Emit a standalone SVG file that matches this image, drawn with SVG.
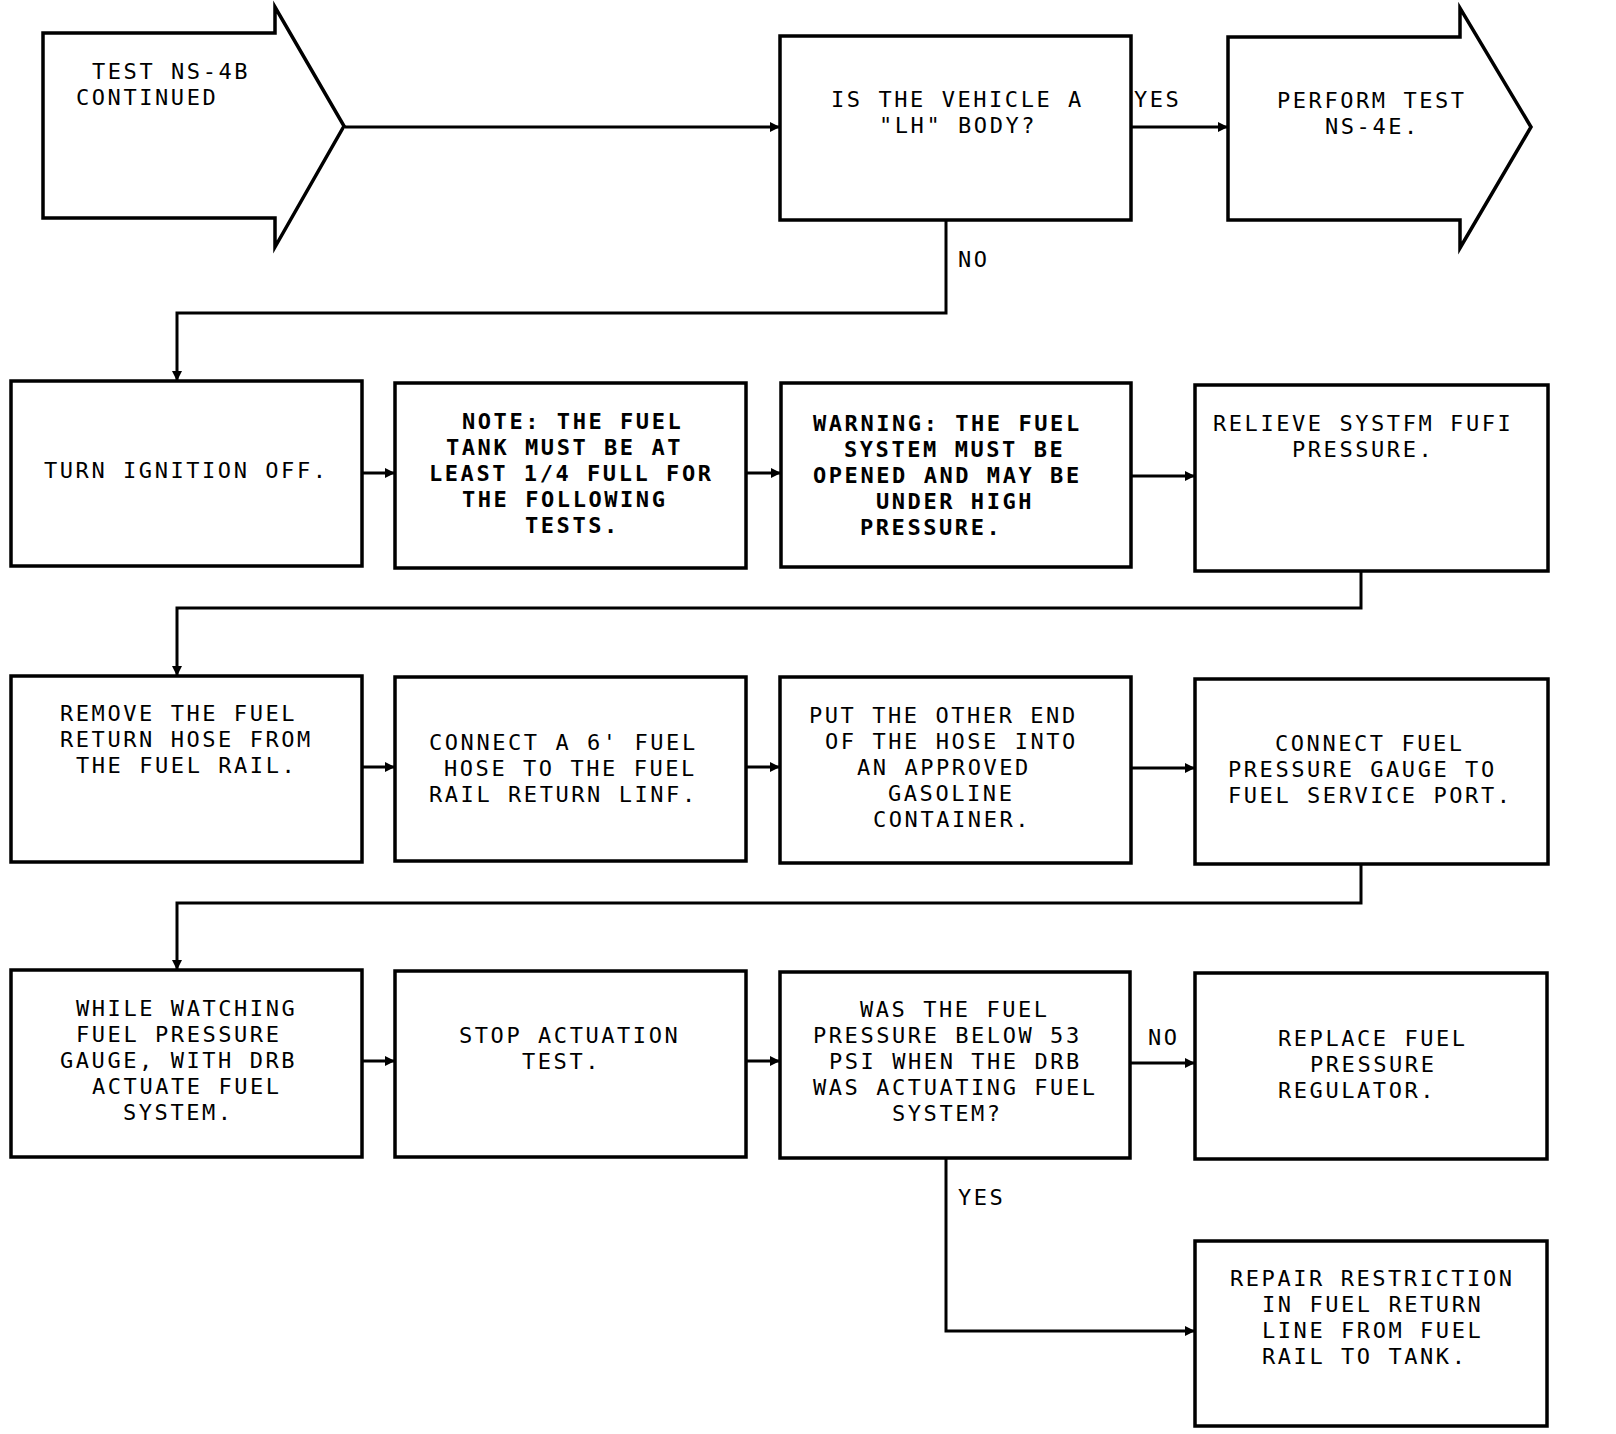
<svg xmlns="http://www.w3.org/2000/svg" width="1616" height="1434" viewBox="0 0 1616 1434">
<style>
.box{fill:#fff;stroke:#000;stroke-width:3.5}
.con{fill:none;stroke:#000;stroke-width:3}
text{font-family:"DejaVu Sans Mono","Liberation Mono",monospace;font-size:22px;letter-spacing:2.56px;fill:#000}
.b{font-weight:bold}
</style>
<defs>
<marker id="ah" markerUnits="userSpaceOnUse" markerWidth="12" markerHeight="10" refX="10" refY="5" orient="auto">
<path d="M0,0 L10,5 L0,10 Z" fill="#000"/>
</marker>
</defs>
<rect width="1616" height="1434" fill="#fff"/>

<g id="connectors">
<line class="con" x1="345" y1="127" x2="780" y2="127" marker-end="url(#ah)"/>
<line class="con" x1="1131" y1="127" x2="1228" y2="127" marker-end="url(#ah)"/>
<polyline class="con" points="946,220 946,313 177,313 177,381" marker-end="url(#ah)"/>
<line class="con" x1="362" y1="473" x2="395" y2="473" marker-end="url(#ah)"/>
<line class="con" x1="746" y1="473" x2="781" y2="473" marker-end="url(#ah)"/>
<line class="con" x1="1131" y1="476" x2="1195" y2="476" marker-end="url(#ah)"/>
<polyline class="con" points="1361,571 1361,608 177,608 177,676" marker-end="url(#ah)"/>
<line class="con" x1="362" y1="767" x2="395" y2="767" marker-end="url(#ah)"/>
<line class="con" x1="746" y1="767" x2="780" y2="767" marker-end="url(#ah)"/>
<line class="con" x1="1131" y1="768" x2="1195" y2="768" marker-end="url(#ah)"/>
<polyline class="con" points="1361,864 1361,903 177,903 177,970" marker-end="url(#ah)"/>
<line class="con" x1="362" y1="1061" x2="395" y2="1061" marker-end="url(#ah)"/>
<line class="con" x1="746" y1="1061" x2="780" y2="1061" marker-end="url(#ah)"/>
<line class="con" x1="1130" y1="1063" x2="1195" y2="1063" marker-end="url(#ah)"/>
<polyline class="con" points="946,1158 946,1331 1195,1331" marker-end="url(#ah)"/>
<text x="1134" y="107">YES</text>
<text x="958" y="267">NO</text>
<text x="1148" y="1045">NO</text>
<text x="958" y="1205">YES</text>
</g>

<g id="start">
<polygon class="box" points="43,33 275,33 275,7 344,126 275,247 275,218 43,218"/>
<text x="92" y="79">TEST NS-4B</text>
<text x="76" y="105">CONTINUED</text>
</g>

<g id="q-lh">
<rect class="box" x="780" y="36" width="351" height="184"/>
<text x="831" y="107">IS THE VEHICLE A</text>
<text x="879" y="133">"LH" BODY?</text>
</g>

<g id="ns4e">
<polygon class="box" points="1228,37 1460,37 1460,8 1531,127 1460,248 1460,220 1228,220"/>
<text x="1277" y="108">PERFORM TEST</text>
<text x="1325" y="134">NS-4E.</text>
</g>

<g id="ignition">
<rect class="box" x="11" y="381" width="351" height="185"/>
<text x="44" y="478">TURN IGNITION OFF.</text>
</g>

<g id="note">
<rect class="box" x="395" y="383" width="351" height="185"/>
<text class="b" x="462" y="429">NOTE: THE FUEL</text>
<text class="b" x="446" y="455">TANK MUST BE AT</text>
<text class="b" x="429" y="481">LEAST 1/4 FULL FOR</text>
<text class="b" x="462" y="507">THE FOLLOWING</text>
<text class="b" x="525" y="533">TESTS.</text>
</g>

<g id="warning">
<rect class="box" x="781" y="383" width="350" height="184"/>
<text class="b" x="813" y="431">WARNING: THE FUEL</text>
<text class="b" x="844" y="457">SYSTEM MUST BE</text>
<text class="b" x="813" y="483">OPENED AND MAY BE</text>
<text class="b" x="876" y="509">UNDER HIGH</text>
<text class="b" x="860" y="535">PRESSURE.</text>
</g>

<g id="relieve">
<rect class="box" x="1195" y="385" width="353" height="186"/>
<text x="1213" y="431">RELIEVE SYSTFM FUFI</text>
<text x="1292" y="457">PRESSURE.</text>
</g>

<g id="remove">
<rect class="box" x="11" y="676" width="351" height="186"/>
<text x="60" y="721">REMOVE THE FUEL</text>
<text x="60" y="747">RETURN HOSE FROM</text>
<text x="76" y="773">THE FUEL RAIL.</text>
</g>

<g id="connect-hose">
<rect class="box" x="395" y="677" width="351" height="184"/>
<text x="429" y="750">CONNECT A 6' FUEL</text>
<text x="444" y="776">HOSE TO THE FUEL</text>
<text x="429" y="802">RAIL RETURN LINF.</text>
</g>

<g id="put-end">
<rect class="box" x="780" y="677" width="351" height="186"/>
<text x="809" y="723">PUT THE OTHER END</text>
<text x="825" y="749">OF THE HOSE INTO</text>
<text x="857" y="775">AN APPROVED</text>
<text x="888" y="801">GASOLINE</text>
<text x="873" y="827">CONTAINER.</text>
</g>

<g id="connect-gauge">
<rect class="box" x="1195" y="679" width="353" height="185"/>
<text x="1275" y="751">CONNECT FUEL</text>
<text x="1228" y="777">PRESSURE GAUGE TO</text>
<text x="1228" y="803">FUEL SERVICE PORT.</text>
</g>

<g id="actuate">
<rect class="box" x="11" y="970" width="351" height="187"/>
<text x="76" y="1016">WHILE WATCHING</text>
<text x="76" y="1042">FUEL PRESSURE</text>
<text x="60" y="1068">GAUGE, WITH DRB</text>
<text x="92" y="1094">ACTUATE FUEL</text>
<text x="123" y="1120">SYSTEM.</text>
</g>

<g id="stop">
<rect class="box" x="395" y="971" width="351" height="186"/>
<text x="459" y="1043">STOP ACTUATION</text>
<text x="522" y="1069">TEST.</text>
</g>

<g id="q-pressure">
<rect class="box" x="780" y="972" width="350" height="186"/>
<text x="860" y="1017">WAS THE FUEL</text>
<text x="813" y="1043">PRESSURE BELOW 53</text>
<text x="829" y="1069">PSI WHEN THE DRB</text>
<text x="813" y="1095">WAS ACTUATING FUEL</text>
<text x="892" y="1121">SYSTEM?</text>
</g>

<g id="replace">
<rect class="box" x="1195" y="973" width="352" height="186"/>
<text x="1278" y="1046">REPLACE FUEL</text>
<text x="1310" y="1072">PRESSURE</text>
<text x="1278" y="1098">REGULATOR.</text>
</g>

<g id="repair">
<rect class="box" x="1195" y="1241" width="352" height="185"/>
<text x="1230" y="1286">REPAIR RESTRICTION</text>
<text x="1262" y="1312">IN FUEL RETURN</text>
<text x="1262" y="1338">LINE FROM FUEL</text>
<text x="1262" y="1364">RAIL TO TANK.</text>
</g>
</svg>
